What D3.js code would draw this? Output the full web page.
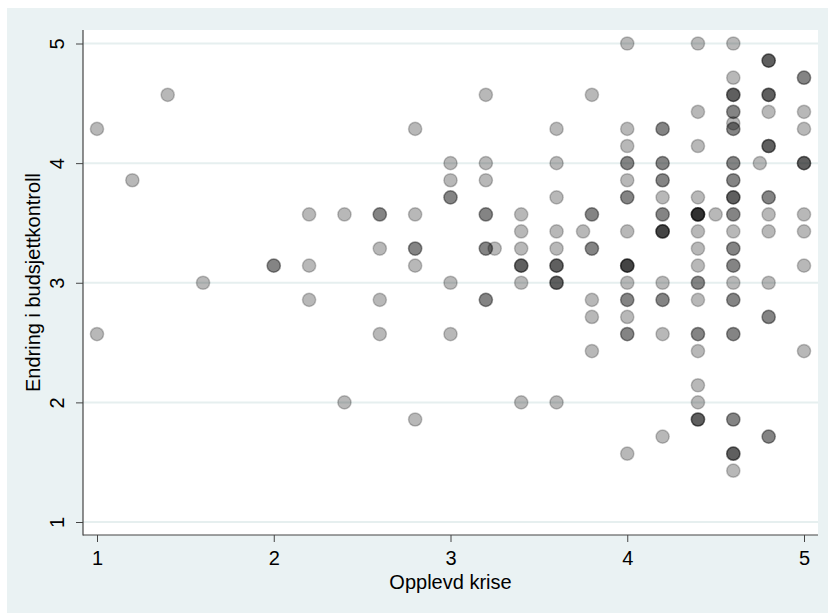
<!DOCTYPE html>
<html>
<head>
<meta charset="utf-8">
<script src="https://cdn.jsdelivr.net/npm/d3@7"></script>
<style>
  body { margin: 0; background: #fff; }
  svg { display: block; font-family: "Liberation Sans", Arial, sans-serif; }
</style>
</head>
<body>
<svg width="830" height="614"></svg>
<script>
// Opplevd krise (x), Endring i budsjettkontroll (y), antall observasjoner i samme punkt
var krise = [
    1, 1,
    1.2,
    1.4,
    1.6,
    2,
    2.2, 2.2, 2.2,
    2.4, 2.4,
    2.6, 2.6, 2.6, 2.6,
    2.8, 2.8, 2.8, 2.8, 2.8,
    3, 3, 3, 3, 3,
    3.2, 3.2, 3.2, 3.2, 3.2, 3.2,
    3.25,
    3.4, 3.4, 3.4, 3.4, 3.4, 3.4,
    3.6, 3.6, 3.6, 3.6, 3.6, 3.6, 3.6, 3.6,
    3.75,
    3.8, 3.8, 3.8, 3.8, 3.8, 3.8,
    4, 4, 4, 4, 4, 4, 4, 4, 4, 4, 4, 4, 4,
    4.2, 4.2, 4.2, 4.2, 4.2, 4.2, 4.2, 4.2, 4.2, 4.2,
    4.4, 4.4, 4.4, 4.4, 4.4, 4.4, 4.4, 4.4, 4.4, 4.4, 4.4, 4.4, 4.4, 4.4, 4.4,
    4.5,
    4.6, 4.6, 4.6, 4.6, 4.6, 4.6, 4.6, 4.6, 4.6, 4.6, 4.6, 4.6, 4.6, 4.6, 4.6, 4.6, 4.6, 4.6, 4.6,
    4.75,
    4.8, 4.8, 4.8, 4.8, 4.8, 4.8, 4.8, 4.8, 4.8, 4.8,
    5, 5, 5, 5, 5, 5, 5, 5
];

var budsjett = [
    4.286, 2.571,
    3.857,
    4.571,
    3,
    3.143,
    3.571, 3.143, 2.857,
    3.571, 2,
    3.571, 3.286, 2.857, 2.571,
    4.286, 3.571, 3.286, 3.143, 1.857,
    4, 3.857, 3.714, 3, 2.571,
    4.571, 4, 3.857, 3.571, 3.286, 2.857,
    3.286,
    3.571, 3.429, 3.286, 3.143, 3, 2,
    4.286, 4, 3.714, 3.429, 3.286, 3.143, 3, 2,
    3.429,
    4.571, 3.571, 3.286, 2.857, 2.714, 2.429,
    5, 4.286, 4.143, 4, 3.857, 3.714, 3.429, 3.143, 3, 2.857, 2.714, 2.571, 1.571,
    4.286, 4, 3.857, 3.714, 3.571, 3.429, 3, 2.857, 2.571, 1.714,
    5, 4.429, 4.143, 3.714, 3.571, 3.429, 3.286, 3.143, 3, 2.857, 2.571, 2.429, 2.143, 2, 1.857,
    3.571,
    5, 4.714, 4.571, 4.429, 4.333, 4.286, 4, 3.857, 3.714, 3.571, 3.429, 3.286, 3.143, 3, 2.857, 2.571, 1.857, 1.571, 1.429,
    4,
    4.857, 4.571, 4.429, 4.143, 3.714, 3.571, 3.429, 3, 2.714, 1.714,
    4.714, 4.429, 4.286, 4, 3.571, 3.429, 3.143, 2.429
];

var antall = [
    1, 1,
    1,
    1,
    1,
    2,
    1, 1, 1,
    1, 1,
    2, 1, 1, 1,
    1, 1, 2, 1, 1,
    1, 1, 2, 1, 1,
    1, 1, 1, 2, 2, 2,
    1,
    1, 1, 1, 3, 1, 1,
    1, 1, 1, 1, 1, 3, 3, 1,
    1,
    1, 2, 2, 1, 1, 1,
    1, 1, 1, 2, 1, 2, 1, 4, 1, 2, 1, 2, 1,
    2, 2, 2, 1, 2, 4, 1, 2, 1, 1,
    1, 1, 1, 1, 5, 1, 1, 1, 2, 1, 2, 1, 1, 1, 3,
    1,
    1, 1, 3, 2, 1, 2, 2, 2, 3, 2, 1, 2, 2, 1, 2, 2, 2, 3, 1,
    1,
    3, 3, 1, 3, 2, 1, 1, 1, 2, 2,
    2, 1, 1, 3, 1, 1, 1, 1
];

var xTicks = [1, 2, 3, 4, 5],
    yTicks = [1, 2, 3, 4, 5];

var xTitle = "Opplevd krise",
    yTitle = "Endring i budsjettkontroll";

var svg = d3.select("svg"),
    plot = {left: 83, right: 818, top: 30, bottom: 535};

var scaleX = d3.scaleLinear().domain([1, 5]).range([97, 804]),
    scaleY = d3.scaleLinear().domain([1, 5]).range([522, 43.5]);

// graph region background
svg.append("rect")
    .attr("x", 7).attr("y", 8)
    .attr("width", 821).attr("height", 605)
    .attr("fill", "#eaf2f3");

svg.append("rect")
    .attr("x", plot.left).attr("y", plot.top)
    .attr("width", plot.right - plot.left).attr("height", plot.bottom - plot.top)
    .attr("fill", "#fff");

// gridlines
svg.append("g").selectAll("line")
    .data(yTicks)
    .enter().append("line")
    .attr("x1", plot.left).attr("x2", plot.right)
    .attr("y1", function (d) { return scaleY(d); })
    .attr("y2", function (d) { return scaleY(d); })
    .attr("stroke", "#e6efef")
    .attr("stroke-width", 2);

// one circle per observation, so overlapping ones get darker
var obs = [];
krise.forEach(function (x, i) {
    for (var k = 0; k < antall[i]; k++) {
        obs.push({x: x, y: budsjett[i]});
    }
});

svg.append("g").selectAll("circle")
    .data(obs)
    .enter().append("circle")
    .attr("cx", function (d) { return scaleX(d.x); })
    .attr("cy", function (d) { return scaleY(d.y); })
    .attr("r", 6.6)
    .attr("fill", "#000")
    .attr("fill-opacity", 0.28)
    .attr("stroke", "#000")
    .attr("stroke-opacity", 0.22)
    .attr("stroke-width", 1.5);

// axes
var axisX = svg.append("g")
    .attr("transform", "translate(0," + plot.bottom + ")")
    .call(d3.axisBottom(scaleX).tickValues(xTicks).tickSize(7).tickFormat(d3.format("d")));

var axisY = svg.append("g")
    .attr("transform", "translate(" + plot.left + ",0)")
    .call(d3.axisLeft(scaleY).tickValues(yTicks).tickSize(7).tickFormat(d3.format("d")));

[axisX, axisY].forEach(function (ax) {
    ax.select(".domain").remove();
    ax.selectAll(".tick line").attr("stroke", "#444").attr("stroke-width", 1);
    ax.selectAll(".tick text")
        .attr("fill", "#000")
        .style("font-size", "20px");
});

axisX.selectAll(".tick text").attr("y", 30).attr("dy", 0);

axisY.selectAll(".tick text")
    .attr("x", 0).attr("dy", 0)
    .attr("text-anchor", "middle")
    .attr("transform", "translate(-19,0) rotate(-90)");

// axis lines
svg.append("line")
    .attr("x1", plot.left).attr("x2", plot.left)
    .attr("y1", plot.top).attr("y2", plot.bottom + 0.5)
    .attr("stroke", "#444").attr("stroke-width", 1.2);

svg.append("line")
    .attr("x1", plot.left).attr("x2", plot.right)
    .attr("y1", plot.bottom).attr("y2", plot.bottom)
    .attr("stroke", "#444").attr("stroke-width", 1.2);

// titles
svg.append("text")
    .attr("x", (plot.left + plot.right) / 2)
    .attr("y", 589)
    .attr("text-anchor", "middle")
    .style("font-size", "20px")
    .text(xTitle);

svg.append("text")
    .attr("transform", "translate(40," + (plot.top + plot.bottom) / 2 + ") rotate(-90)")
    .attr("text-anchor", "middle")
    .style("font-size", "20px")
    .text(yTitle);
</script>
</body>
</html>
